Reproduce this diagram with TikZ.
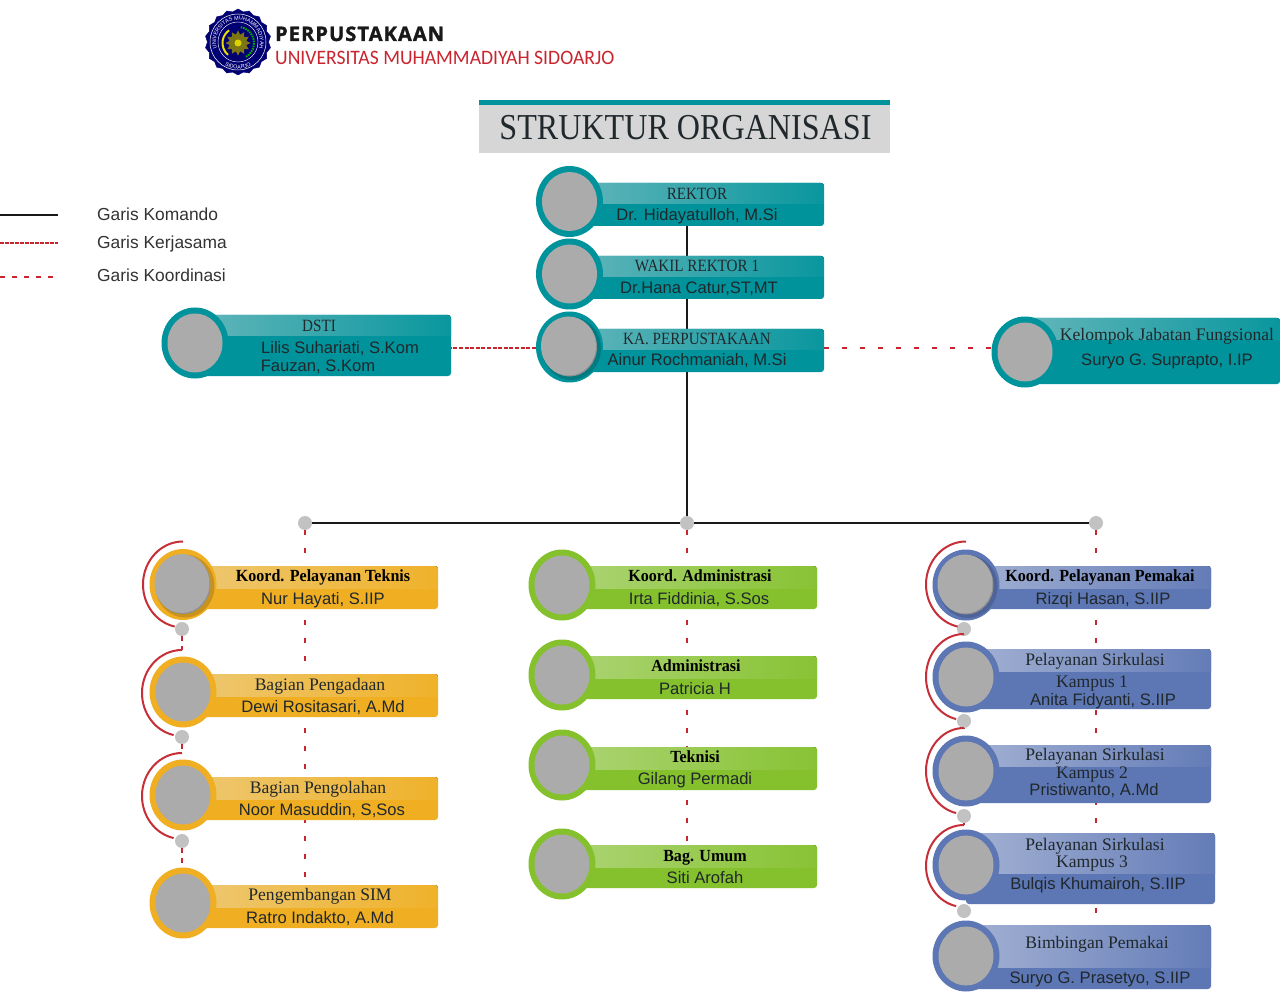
\documentclass[tikz,border=0pt]{standalone}
\usepackage{fontspec}
\setmainfont{Liberation Serif}
\setsansfont{Liberation Sans}
\newfontfamily\perpfont[LetterSpace=5.5,BoldFeatures={FakeBold=1.5}]{Open Sans}
\newfontfamily\unifont[FakeStretch=0.957]{Carlito}
\newfontfamily\capsfont[FakeStretch=0.88]{Liberation Serif}
\newfontfamily\bttlfont[FakeStretch=0.945,BoldFeatures={FakeStretch=0.945}]{Liberation Serif}
\usetikzlibrary{shapes.geometric,decorations.text}
\pgfdeclarelayer{conn}
\pgfsetlayers{conn,main}
\definecolor{tealD}{HTML}{00939B}\definecolor{tealL}{HTML}{62B6BA}
\definecolor{orgD}{HTML}{F0AF22}\definecolor{orgL}{HTML}{EDC873}
\definecolor{grnD}{HTML}{84C12D}\definecolor{grnL}{HTML}{ADD475}
\definecolor{bluD}{HTML}{5D76B4}\definecolor{bluL}{HTML}{A3B1D3}
\definecolor{ink}{HTML}{20282C}
\definecolor{lineR}{HTML}{C9252F}
\definecolor{arcR}{HTML}{C62F38}
\tikzset{
 x=1pt,y=-1pt,
 ring/.style={ellipse,inner sep=0pt,minimum width=67pt,minimum height=71pt},
 face/.style={ellipse,inner sep=0pt,minimum width=55pt,minimum height=59pt,fill=black!33},
 bar/.style={inner sep=0pt,outer sep=0pt,rounded corners=3pt},
 dotn/.style={circle,inner sep=0pt,minimum size=14pt,fill=black!24},
 ttl/.style={anchor=base,inner sep=0pt,text=ink,font=\fontsize{17.6}{17.6}\selectfont},
 capt/.style={anchor=base,inner sep=0pt,text=ink,font=\capsfont\fontsize{17.2}{17.2}\selectfont},
 bttl/.style={anchor=base,inner sep=0pt,text=black,font=\bttlfont\bfseries\fontsize{17}{17}\selectfont},
 nam/.style={anchor=base,inner sep=0pt,text=ink,font=\sffamily\fontsize{16.6}{16.6}\selectfont},
 leg/.style={anchor=base west,inner sep=0pt,text=black!80,font=\sffamily\fontsize{17.4}{17.4}\selectfont},
 cmd/.style={black!90,line width=2.4pt},
 kerja/.style={lineR,line width=2.4pt,dash pattern=on 4pt off 1.6pt},
 koor/.style={lineR,line width=2.6pt,dash pattern=on 5pt off 13pt},
 redarc/.style={arcR,line width=2pt},
}
% id, cx, cy, right, top, bottom, split, dark, light
\newcommand{\card}[9]{%
 \pgfmathsetmacro{\bw}{#4-#2}\pgfmathsetmacro{\bh}{#6-#5}%
 \pgfmathsetmacro{\bx}{(#4+#2)/2}\pgfmathsetmacro{\by}{(#5+#6)/2}%
 \node[bar,fill=#8,minimum width=\bw pt,minimum height=\bh pt] (#1) at (\bx,\by) {};
 \begin{scope}
 \clip[rounded corners=3pt] (#2,#5) rectangle (#4,#6);
 \fill[left color=#9,right color=#8!90!#9] (#2,#5) rectangle (#4,#7);
 \end{scope}
 \node[ring,fill=#8] (#1-ring) at (#2,#3) {};
 \node[face] (#1-face) at (#2,#3) {};
}
% id, cx, cy : soft shadow inside the ring and a fresh, slightly offset face
\newcommand{\ringshadow}[3]{%
 \fill[black,opacity=.16] (#2+2,#3+1.5) ellipse [x radius=29.5,y radius=31.5];
 \node[face] (#1-face2) at (#2-1,#3-1) {};
}
\begin{document}
\begin{tikzpicture}
\useasboundingbox (0,0) rectangle (1280,992);
% title
\fill[black!16] (479,100) rectangle (890,153);
\fill[tealD] (479,100) rectangle (890,105);
\node[anchor=base,inner sep=0pt,text=ink,font=\capsfont\fontsize{36.5}{36.5}\selectfont] (title) at (685.5,139.5) {STRUKTUR ORGANISASI};
% logo
\node[star,star points=18,star point ratio=1.08,inner sep=0pt,minimum size=66pt,fill=blue!45!black,draw=blue!45!black] (logo) at (238,42) {};
\draw[white,line width=.5pt] (238,42) circle (28);
\draw[white,line width=.4pt] (238,42) circle (20);
\path[decorate,decoration={text along path,text align=center,text={|\sffamily\fontsize{5.4}{5.4}\selectfont\color{white}|UNIVERSITAS MUHAMMADIYAH}}] (238,42) ++(-215:22) arc[start angle=-215,end angle=35,radius=22];
\path[decorate,decoration={text along path,text align=center,text={|\sffamily\fontsize{5.4}{5.4}\selectfont\color{white}|SIDOARJO}}] (238,42) ++(140:27) arc[start angle=140,end angle=40,radius=27];
\node[star,star points=12,star point ratio=1.45,inner sep=0pt,minimum size=25pt,fill=olive!85!black] (logosun) at (238,43) {};
\node[circle,inner sep=0pt,minimum size=7pt,fill=yellow!70!olive] (logoc) at (238,43) {};
\draw[yellow!80!olive,line width=2pt] (238,43) ++(130:15.5) arc[start angle=130,end angle=235,radius=15.5];
\draw[green!70!black,line width=2pt,dash pattern=on 1.5pt off 1pt] (238,43) ++(-80:16) arc[start angle=-80,end angle=60,radius=16];
\node[anchor=base west,inner sep=0pt,text=black!90,font=\perpfont\bfseries\fontsize{20}{20}\selectfont] (perp) at (275,41) {PERPUSTAKAAN};
\node[anchor=base west,inner sep=0pt,text=lineR,font=\unifont\fontsize{20.5}{20.5}\selectfont] (univ) at (275,65) {UNIVERSITAS MUHAMMADIYAH SIDOARJO};
% legend
\coordinate (lk0) at (0,215);\coordinate (lk1) at (58,215);
\coordinate (lj0) at (0,243);\coordinate (lj1) at (58,243);
\coordinate (lo0) at (0,277);\coordinate (lo1) at (56,277);
\draw[black!90,line width=2pt] (lk0)--(lk1);
\draw[lineR,line width=2pt,dash pattern=on 3.5pt off 1.5pt] (lj0)--(lj1);
\draw[lineR,line width=2pt,dash pattern=on 5pt off 7pt] (lo0)--(lo1);
\node[leg] (lt1) at (97,221) {Garis Komando};
\node[leg] (lt2) at (97,249) {Garis Kerjasama};
\node[leg] (lt3) at (97,282) {Garis Koordinasi};
% top cards
\card{rek}{569.5}{201.5}{824}{183}{226}{204}{tealD}{tealL}
\card{wak}{569.5}{274}{824}{256}{299}{277}{tealD}{tealL}
\card{ka}{569.5}{347}{824}{329}{372}{350}{tealD}{tealL}
\ringshadow{ka}{569.5}{347}
\card{dsti}{195}{343}{451}{315}{376}{336}{tealD}{tealL}
\card{kjf}{1025}{352}{1280}{318}{384}{340}{tealD}{tealL}
\node[capt] (t-rek) at (697,199.5) {REKTOR};
\node[nam] (n-rek) at (697,221) {Dr. Hidayatulloh, M.Si};
\node[capt] (t-wak) at (697,271.5) {WAKIL REKTOR 1};
\node[nam] (n-wak) at (699,294) {Dr.Hana Catur,ST,MT};
\node[capt] (t-ka) at (697,344.5) {KA. PERPUSTAKAAN};
\node[nam] (n-ka) at (697,366) {Ainur Rochmaniah, M.Si};
\node[capt] (t-dsti) at (319,331.5) {DSTI};
\node[nam] (n-dsti1) at (340,353) {Lilis Suhariati, S.Kom};
\node[nam] (n-dsti2) at (318,371) {Fauzan, S.Kom};
\node[ttl] (t-kjf) at (1167,340.5) {Kelompok Jabatan Fungsional};
\node[nam] (n-kjf) at (1167,366) {Suryo G. Suprapto, I.IP};
% left column
\card{a1}{183}{584.5}{438}{566}{609}{588}{orgD}{orgL}
\ringshadow{a1}{183}{584.5}
\card{a2}{183}{692}{438}{674}{717}{696}{orgD}{orgL}
\card{a3}{183}{795}{438}{777}{820}{799}{orgD}{orgL}
\card{a4}{183}{903}{438}{885}{928}{907}{orgD}{orgL}
\node[bttl] (t-a1) at (323,581.5) {Koord. Pelayanan Teknis};
\node[nam] (n-a1) at (323,604) {Nur Hayati, S.IIP};
\node[ttl] (t-a2) at (320,690) {Bagian Pengadaan};
\node[nam] (n-a2) at (323,712) {Dewi Rositasari, A.Md};
\node[ttl] (t-a3) at (318,793) {Bagian Pengolahan};
\node[nam] (n-a3) at (322,815) {Noor Masuddin, S,Sos};
\node[ttl] (t-a4) at (320,900.5) {Pengembangan SIM};
\node[nam] (n-a4) at (320,923) {Ratro Indakto, A.Md};
% middle column
\card{b1}{562}{585}{817}{566}{609}{588}{grnD}{grnL}
\card{b2}{562}{675}{817}{656}{699}{678}{grnD}{grnL}
\card{b3}{562}{765}{817}{747}{790}{769}{grnD}{grnL}
\card{b4}{562}{864}{817}{845}{888}{867}{grnD}{grnL}
\node[bttl] (t-b1) at (700,581.5) {Koord. Administrasi};
\node[nam] (n-b1) at (699,604) {Irta Fiddinia, S.Sos};
\node[bttl] (t-b2) at (696,671.5) {Administrasi};
\node[nam] (n-b2) at (695,694) {Patricia H};
\node[bttl] (t-b3) at (695,762) {Teknisi};
\node[nam] (n-b3) at (695,784) {Gilang Permadi};
\node[bttl] (t-b4) at (705,861.5) {Bag. Umum};
\node[nam] (n-b4) at (705,883) {Siti Arofah};
% right column
\card{c1}{966}{585}{1211}{566}{609}{588}{bluD}{bluL}
\ringshadow{c1}{966}{585}
\card{c2}{966}{677}{1211}{649}{709}{671}{bluD}{bluL}
\card{c3}{966}{771}{1211}{745}{803}{766}{bluD}{bluL}
\card{c4}{966}{865}{1215}{833}{904}{873}{bluD}{bluL}
\card{c5}{966}{956}{1211}{925}{989}{967}{bluD}{bluL}
\node[bttl] (t-c1) at (1100,581.5) {Koord. Pelayanan Pemakai};
\node[nam] (n-c1) at (1103,604) {Rizqi Hasan, S.IIP};
\node[ttl] (t-c2) at (1095,665.5) {Pelayanan Sirkulasi};
\node[ttl] (t-c2b) at (1092,687.5) {Kampus 1};
\node[nam] (n-c2) at (1103,705) {Anita Fidyanti, S.IIP};
\node[ttl] (t-c3) at (1095,760.5) {Pelayanan Sirkulasi};
\node[ttl] (t-c3b) at (1092,778.5) {Kampus 2};
\node[nam] (n-c3) at (1094,795) {Pristiwanto, A.Md};
\node[ttl] (t-c4) at (1095,850) {Pelayanan Sirkulasi};
\node[ttl] (t-c4b) at (1092,867.5) {Kampus 3};
\node[nam] (n-c4) at (1098,889.5) {Bulqis Khumairoh, S.IIP};
\node[ttl] (t-c5) at (1097,948.5) {Bimbingan Pemakai};
\node[nam] (n-c5) at (1100,983.5) {Suryo G. Prasetyo, S.IIP};
% junction dots
\node[dotn] (dL) at (305,523) {};
\node[dotn] (dM) at (687,523) {};
\node[dotn] (dR) at (1096,523) {};
\node[dotn] (da1) at (182,629) {};
\node[dotn] (da2) at (182,737) {};
\node[dotn] (da3) at (182,841) {};
\node[dotn] (dc1) at (964,629) {};
\node[dotn] (dc2) at (964,721) {};
\node[dotn] (dc3) at (964,816) {};
\node[dotn] (dc4) at (964,911) {};
% arcs
\coordinate (ta1) at (183,541.5);\coordinate (ta2) at (182,650);\coordinate (ta3) at (182,753);
\coordinate (tc1) at (966,541.5);\coordinate (tc2) at (964,634);\coordinate (tc3) at (964,728);\coordinate (tc4) at (964,825);
\draw[redarc] (ta1) arc[start angle=-90,end angle=-258,x radius=40,y radius=43];
\draw[redarc] (ta2) arc[start angle=-90,end angle=-258,x radius=40,y radius=43];
\draw[redarc] (ta3) arc[start angle=-90,end angle=-258,x radius=40,y radius=43];
\draw[redarc] (tc1) arc[start angle=-90,end angle=-258,x radius=40,y radius=43];
\draw[redarc] (tc2) arc[start angle=-90,end angle=-258,x radius=38,y radius=43];
\draw[redarc] (tc3) arc[start angle=-90,end angle=-258,x radius=38,y radius=43];
\draw[redarc] (tc4) arc[start angle=-90,end angle=-258,x radius=38,y radius=41];
\begin{pgfonlayer}{conn}
\fill[white] (0,0) rectangle (1280,992);
\draw[cmd] (rek.south -| dM) -- (dM);
\draw[cmd] (dL) -- (dR);
\draw[kerja] (ka-ring.west) ++(0,1) -- (dsti.east |- 0,348);
\draw[koor] (ka.east |- 0,348) -- (kjf-ring.west |- 0,348);
\draw[koor] (dL) -- (a4.north -| dL);
\draw[koor] (dM) -- (b4.north -| dM);
\draw[koor] (dR) -- (c5.north -| dR);
\draw[koor,dash pattern=on 5pt off 5pt] (da1) -- (ta2);
\draw[koor,dash pattern=on 5pt off 5pt] (da2) -- (ta3);
\draw[koor,dash pattern=on 5pt off 5pt] (da3) -- (a4-ring.north -| da3);
\draw[koor,dash pattern=on 5pt off 5pt] (dc1) -- (tc2);
\draw[koor,dash pattern=on 5pt off 5pt] (dc2) -- (tc3);
\draw[koor,dash pattern=on 5pt off 5pt] (dc3) -- (tc4);
\end{pgfonlayer}
\end{tikzpicture}
\end{document}
